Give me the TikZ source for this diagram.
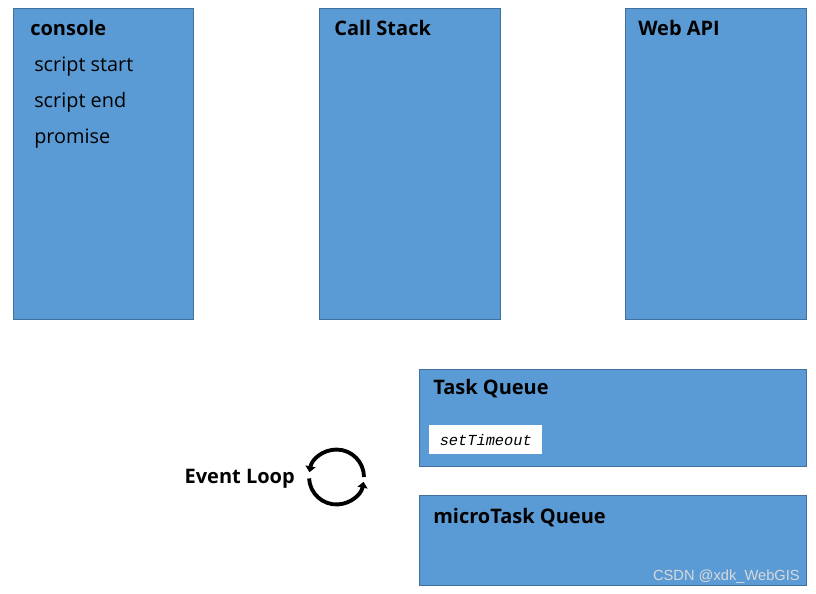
\documentclass[tikz,border=0pt]{standalone}
\usepackage{xcolor}
\usepackage{fontspec}
\setmainfont{Open Sans}
\newfontfamily\codefont{Liberation Mono}
\newfontfamily\markfont{Liberation Sans}
\usetikzlibrary{arrows.meta, positioning}
\definecolor{panelblue}{HTML}{5B9BD5}
\definecolor{paneledge}{HTML}{41719C}

\begin{document}
\begin{tikzpicture}[x=0.75pt, y=-0.75pt]
\tikzstyle{panel} = [rectangle, draw=paneledge, fill=panelblue, anchor=north west, inner sep=0pt]
\tikzstyle{title} = [anchor=west, inner sep=0pt, font=\fontsize{15}{18}\selectfont\bfseries]
\tikzstyle{entry} = [anchor=west, inner sep=0pt, text height=11pt, text depth=3.5pt, font=\fontsize{14.9}{18}\selectfont]
\tikzstyle{codebox} = [rectangle, fill=white, inner sep=0pt, minimum width=84.75pt, minimum height=21.75pt, font=\fontsize{11.5}{14}\selectfont\codefont\itshape]
\tikzstyle{cyclearrow} = [line width=2.9pt, -{Triangle[length=4.5pt, width=7.5pt]}]

\useasboundingbox (0,0) rectangle (816,593);

% top row
\node (console) [panel, minimum width=135pt, minimum height=233.25pt] at (13,8) {};
\node (stack) [panel, minimum width=135.75pt, minimum height=233.25pt] at (319,8) {};
\node (webapi) [panel, minimum width=135.75pt, minimum height=233.25pt] at (625,8) {};

\node (consoletitle) [title] at ([shift={(17,20)}]console.north west) {console};
\node (stacktitle) [title] at ([shift={(15,20)}]stack.north west) {Call Stack};
\node (webapititle) [title] at ([shift={(13,20)}]webapi.north west) {Web API};

\node (out1) [entry] at ([shift={(21,58)}]console.north west) {script start};
\node (out2) [entry] at ([yshift=-27pt]out1.west) {script end};
\node (out3) [entry] at ([yshift=-27pt]out2.west) {promise};

% queues
\node (taskq) [panel, minimum width=290.25pt, minimum height=72.75pt] at (419,369) {};
\node (microq) [panel, minimum width=290.25pt, minimum height=67.5pt] at (419,495) {};

\node (tasktitle) [title] at ([shift={(14,20)}]taskq.north west) {Task Queue};
\node (microtitle) [title] at ([shift={(14,23)}]microq.north west) {microTask Queue};
\node (timeout) [codebox, anchor=north west] at ([shift={(10,56)}]taskq.north west) {setTimeout};

% event loop
\coordinate (loopcenter) at (336.5,477);
\node (looptext) [title, anchor=east] at (295,479) {Event Loop};
\draw [cyclearrow] ([shift={(0:20.6pt)}]loopcenter) arc[start angle=0, end angle=170, radius=20.6pt];
\draw [cyclearrow] ([shift={(183:20.6pt)}]loopcenter) arc[start angle=183, end angle=350, radius=20.6pt];

\node (mark) [anchor=east, inner sep=0pt, text=white!85!black, font=\fontsize{11}{13}\selectfont\markfont] at (800,577) {CSDN @xdk\_WebGIS};

\end{tikzpicture}
\end{document}
